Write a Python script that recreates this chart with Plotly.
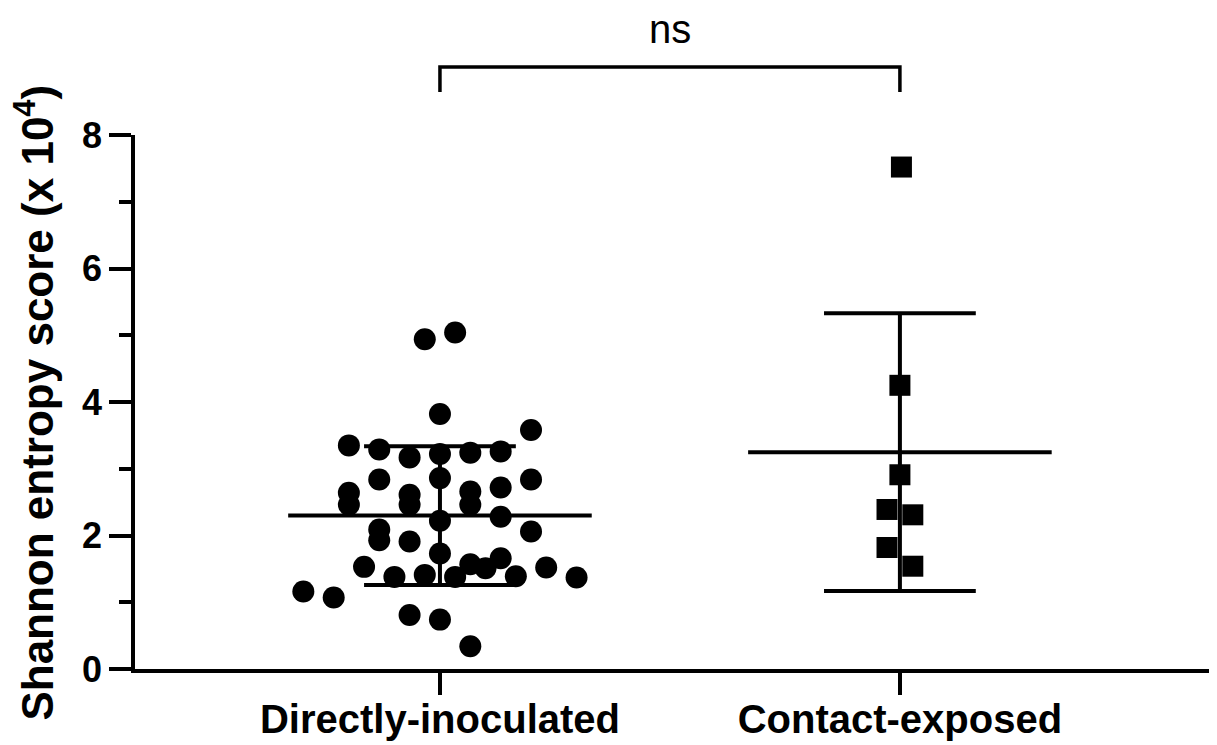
import numpy as np
import plotly.graph_objects as go

# Group labels and per-animal Shannon entropy scores (x 10^4)
groups = ["Directly-inoculated", "Contact-exposed"]

direct_values = [4.94, 5.04, 3.82, 3.58, 3.35, 3.29, 3.17, 3.22, 3.24, 3.26,
                 2.84, 2.86, 2.84, 2.72, 2.64, 2.46, 2.61, 2.46, 2.66, 2.46,
                 2.22, 2.28, 2.09, 1.93, 2.06, 1.91, 1.73, 1.53, 1.57, 1.66,
                 1.51, 1.38, 1.41, 1.38, 1.39, 1.52, 1.37, 1.16, 1.07, 0.81,
                 0.74, 0.34]
# horizontal scatter lane of each point (beeswarm spread)
direct_lanes = [-1, 1, 0, 6, -6, -4, -2, 0, 2, 4,
                -4, 0, 6, 4, -6, -6, -2, -2, 2, 2,
                0, 4, -4, -4, 6, -2, 0, -5, 2, 4,
                3, -3, -1, 1, 5, 7, 9, -9, -7, -2,
                0, 2]

contact_values = [7.52, 4.25, 2.91, 2.39, 2.31, 1.82, 1.54]
contact_lanes = [0.1, 0, 0, -0.85, 0.85, -0.85, 0.85]

y_ticks = [0, 2, 4, 6, 8]
y_title = "Shannon entropy score (x 10<sup>4</sup>)"
sig_label = "ns"

LANE = 0.033          # width of one scatter lane in category units
MEAN_HALF = 0.33      # half-width of the mean bar
CAP_HALF = 0.165      # half-width of the SD caps
FONT = "Liberation Sans, Arial, sans-serif"

fig = go.Figure()

dx = [0 + l * LANE for l in direct_lanes]
cx = [1 + l * LANE for l in contact_lanes]

fig.add_trace(go.Scatter(x=dx, y=direct_values, mode="markers",
                         marker=dict(symbol="circle", size=22, color="black"),
                         cliponaxis=False, showlegend=False))
fig.add_trace(go.Scatter(x=cx, y=contact_values, mode="markers",
                         marker=dict(symbol="square", size=21, color="black"),
                         cliponaxis=False, showlegend=False))

# mean +/- SD bars for each group
for gx, vals in [(0, direct_values), (1, contact_values)]:
    m = float(np.mean(vals))
    sd = float(np.std(vals, ddof=1))
    lw = 4
    fig.add_trace(go.Scatter(x=[gx - MEAN_HALF, gx + MEAN_HALF], y=[m, m], mode="lines",
                             line=dict(color="black", width=lw), showlegend=False))
    fig.add_trace(go.Scatter(x=[gx, gx], y=[m - sd, m + sd], mode="lines",
                             line=dict(color="black", width=lw), showlegend=False))
    for yy in (m - sd, m + sd):
        fig.add_trace(go.Scatter(x=[gx - CAP_HALF, gx + CAP_HALF], y=[yy, yy], mode="lines",
                                 line=dict(color="black", width=lw), showlegend=False))

# significance bracket between the two groups
fig.add_shape(type="path", xref="x", yref="paper",
              path="M 0,1.0805 L 0,1.1273 L 1,1.1273 L 1,1.0805",
              line=dict(color="black", width=3.5))
fig.add_annotation(x=0.5, y=1.198, xref="x", yref="paper", text=sig_label,
                   showarrow=False, yanchor="middle",
                   font=dict(family=FONT, size=40, color="black"))

# y-axis title
fig.add_annotation(x=-0.094, y=0.499, xref="paper", yref="paper", text=y_title,
                   textangle=-90, showarrow=False, xanchor="center", yanchor="middle",
                   font=dict(family=FONT, size=44, color="black", weight="bold"))

fig.update_layout(
    width=1217, height=745,
    margin=dict(l=135, r=8, t=135, b=76, autoexpand=False),
    plot_bgcolor="white", paper_bgcolor="white",
    xaxis=dict(range=[-0.663, 1.672], tickvals=[0, 1], ticktext=groups,
               automargin=False, ticklabelstandoff=-10,
               showgrid=False, zeroline=False, showline=True, linecolor="black",
               linewidth=3.5, ticks="outside", ticklen=22, tickwidth=3.5,
               tickcolor="black",
               tickfont=dict(family=FONT, size=40, color="black", weight="bold")),
    yaxis=dict(range=[0, 8], tickvals=y_ticks, showgrid=False, zeroline=False,
               automargin=False,
               showline=True, linecolor="black", linewidth=3.5,
               ticks="outside", ticklen=22, tickwidth=3.5, tickcolor="black",
               minor=dict(dtick=1, ticks="outside", ticklen=12, tickwidth=3.5,
                          tickcolor="black", showgrid=False),
               tickfont=dict(family=FONT, size=36, color="black", weight="bold")),
)

fig.write_html("out.html")
